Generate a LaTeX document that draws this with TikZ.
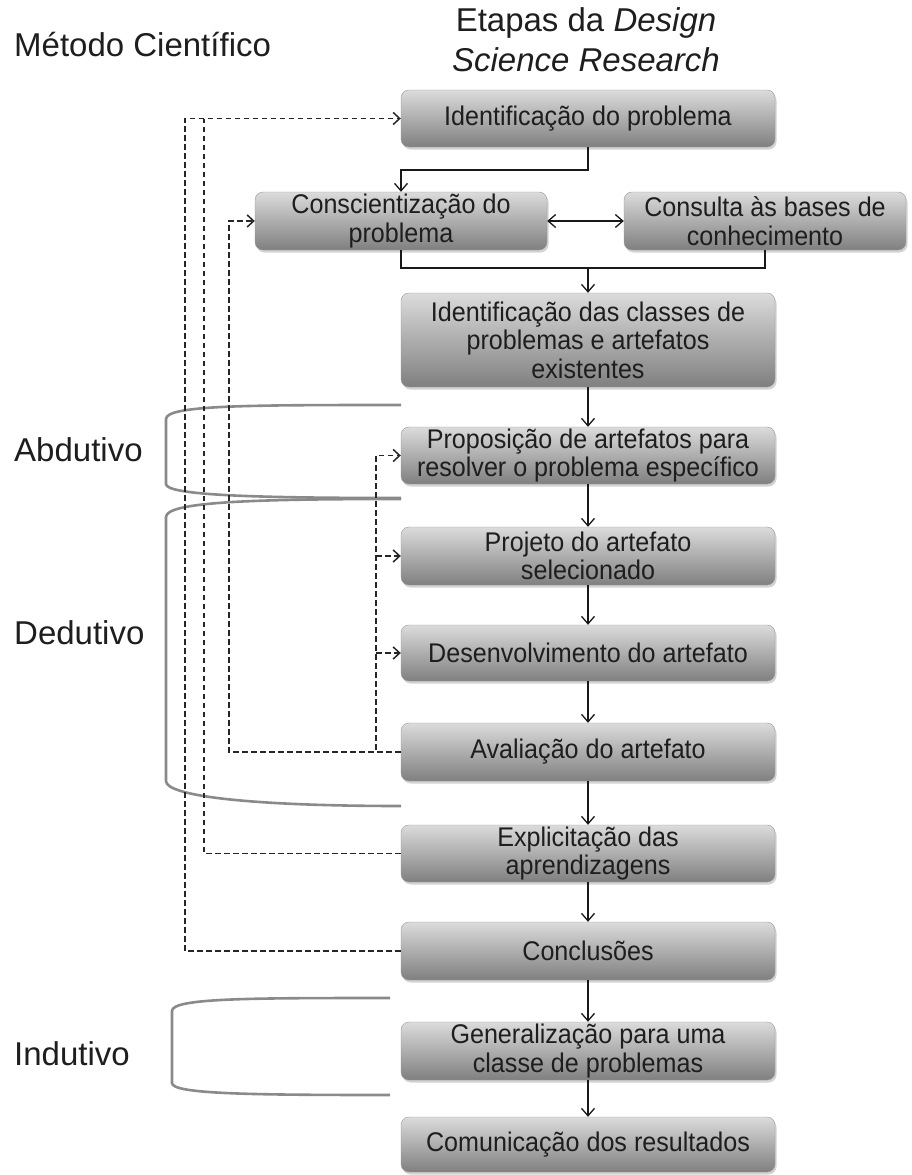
\documentclass[tikz,border=0pt]{standalone}
\usepackage{fontspec}
\setmainfont{Liberation Sans}
\newfontfamily\boxfam{Liberation Sans}[FakeStretch=0.93]
\usetikzlibrary{arrows.meta,shadows,calc}
\newcommand\boxfont{\boxfam\fontsize{27}{28.5}\selectfont}
\newcommand\headfont{\fontsize{33}{40}\selectfont}
\definecolor{txt}{HTML}{1E1E1E}
\definecolor{brk}{HTML}{8A8A8A}
\begin{document}
\begin{tikzpicture}[x=1pt,y=-1pt,
  box/.style={rounded corners=8pt, draw=black!40, top color=black!14, bottom color=black!50,
    drop shadow={shadow xshift=1.5pt, shadow yshift=-2.5pt, opacity=0.35},
    inner sep=0pt, align=center, font=\boxfont, text=txt, minimum width=374pt, minimum height=57pt},
  arr/.style={draw=black!90, line width=1.3pt, -{Straight Barb[length=7.5pt,width=13pt]}},
  dblarr/.style={draw=black!90, line width=1.3pt, {Straight Barb[length=7.5pt,width=13pt]}-{Straight Barb[length=7.5pt,width=13pt]}},
  ln/.style={draw=black!90, line width=1.3pt},
  fb/.style={draw=black!85, line width=1.5pt, dash pattern=on 5.5pt off 3.5pt},
  fbarr/.style={fb, -{Straight Barb[length=6.5pt,width=12pt]}},
  brace/.style={draw=brk, line width=2.6pt},
  lab/.style={font=\headfont, text=txt, inner sep=0pt, anchor=west}
]
\useasboundingbox (0,0) rectangle (912,1175);

% headings
\node[lab] (hm) at (14,45) {Método Científico};
\node[font=\headfont, text=txt, inner sep=0pt, align=center] (hd) at (586,40) {Etapas da \textit{Design}\\ \textit{Science Research}};

% boxes
\node[box] (n1) at (588,118.5) {Identificação do problema};
\node[box, minimum width=292pt, minimum height=58pt] (n2) at (401,221) {Conscientização do\\ problema};
\node[box, minimum width=282pt, minimum height=58pt] (n3) at (765,221) {Consulta às bases de\\ conhecimento};
\node[box, minimum height=94pt] (n4) at (588,340) {Identificação das classes de\\ problemas e artefatos\\ existentes};
\node[box] (n5) at (588,455.5) {Proposição de artefatos para\\ resolver o problema específico};
\node[box, minimum height=58pt] (n6) at (588,556) {Projeto do artefato\\ selecionado};
\node[box, minimum height=56pt] (n7) at (588,653) {Desenvolvimento do artefato};
\node[box, minimum height=58pt] (n8) at (588,752) {Avaliação do artefato};
\node[box] (n9) at (588,853.5) {Explicitação das\\ aprendizagens};
\node[box, minimum height=58pt] (n10) at (588,951) {Conclusões};
\node[box, minimum height=58pt] (n11) at (588,1051) {Generalização para uma\\ classe de problemas};
\node[box, minimum height=55pt] (n12) at (588,1144.5) {Comunicação dos resultados};

% method labels
\node[lab] (ab) at (14,450) {Abdutivo};
\node[lab] (de) at (14,633) {Dedutivo};
\node[lab] (in) at (14,1054) {Indutivo};

% brackets
\draw[brace] (401,405) .. controls (250,405) and (166,405) .. (166,419) -- (166,484)
  .. controls (166,495) and (250,498) .. (401,498);
\draw[brace] (401,499) .. controls (250,499) and (166,502) .. (166,517) -- (166,781)
  .. controls (166,796) and (250,806) .. (401,806);
\draw[brace] (390,998) .. controls (250,998) and (172,998) .. (172,1011) -- (172,1083)
  .. controls (172,1094) and (250,1095) .. (390,1095);

% solid connectors
\coordinate (j1) at (0,170);
\coordinate (j2) at (0,268);
\draw[arr] (n1.south) -- (n1.south |- j1) -| (n2.north);
\draw[dblarr] (n2.east) -- (n3.west);
\draw[ln] (n2.south) -- (n2.south |- j2) -- (n3.south |- j2) -- (n3.south);
\draw[arr] (n4.north |- j2) -- (n4.north);
\draw[arr] (n4) -- (n5);
\draw[arr] (n5) -- (n6);
\draw[arr] (n6) -- (n7);
\draw[arr] (n7) -- (n8);
\draw[arr] (n8) -- (n9);
\draw[arr] (n9) -- (n10);
\draw[arr] (n10) -- (n11);
\draw[arr] (n11) -- (n12);

% dashed feedback
\coordinate (xa) at (185,0);
\coordinate (xb) at (204,0);
\coordinate (xc) at (229,0);
\coordinate (xd) at (376,0);
\draw[fbarr] (n10.west) -- (n10.west -| xa) -- (n1.west -| xa) -- (n1.west);
\draw[fb] (n9.west) -- (n9.west -| xb) -- (n1.west -| xb);
\draw[fbarr] (n8.west) -- (n8.west -| xc) -- (n2.west -| xc) -- (n2.west);
\draw[fbarr] (n8.west) -- (n8.west -| xd) -- (n5.west -| xd) -- (n5.west);
\draw[fbarr] (n6.west -| xd) -- (n6.west);
\draw[fbarr] (n7.west -| xd) -- (n7.west);
\end{tikzpicture}
\end{document}
